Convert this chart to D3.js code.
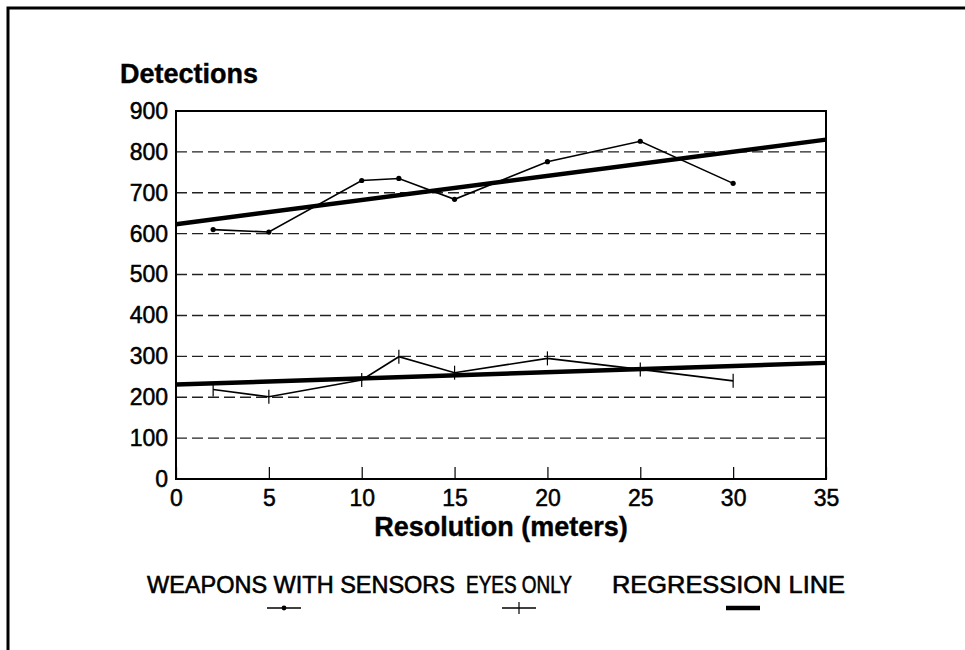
<!DOCTYPE html>
<html>
<head>
<meta charset="utf-8">
<script src="https://cdn.jsdelivr.net/npm/d3@7"></script>
<style>
  body { margin: 0; background: #fff; }
  text { font-family: "Liberation Sans", Arial, Helvetica, sans-serif; fill: #000; }
</style>
</head>
<body>
<svg width="965" height="650"></svg>
<script>
// data
var resolution = [2, 5, 10, 12, 15, 20, 25, 30];
var weaponsWithSensors = [610, 604, 730, 735, 684, 776, 826, 723];
var eyesOnly = [219, 201, 242, 299, 260, 295, 268, 240];
// regression lines, given by their end points (x = 0 and x = 35)
var regressionX = [0, 35];
var regressionWeapons = [623, 830];
var regressionEyes = [231, 284];
var yTicks = [0, 100, 200, 300, 400, 500, 600, 700, 800, 900];
var xTicks = [0, 5, 10, 15, 20, 25, 30, 35];
var legendLabels = ["WEAPONS WITH SENSORS", "EYES ONLY", "REGRESSION LINE"];

var svg = d3.select("svg"),
    margin = {top: 111, left: 176},
    width = 650,
    height = 368;

// outer frame (only top and left edges show)
svg.append("path")
    .attr("d", "M8,650V8H965")
    .attr("fill", "none")
    .attr("stroke", "#000")
    .attr("stroke-width", 3);

var g = svg.append("g").attr("transform", "translate(" + margin.left + "," + margin.top + ")");

var x = d3.scaleLinear().domain([0, 35]).range([0, width]);
var y = d3.scaleLinear().domain([0, 900]).range([height, 0]);

// dashed gridlines
g.append("g")
  .selectAll("line")
  .data(yTicks.filter(function(d) { return d > 0 && d < 900; }))
  .enter().append("line")
    .attr("x1", 0)
    .attr("x2", width)
    .attr("y1", function(d) { return y(d); })
    .attr("y2", function(d) { return y(d); })
    .attr("stroke", "#222")
    .attr("stroke-width", 1.4)
    .attr("stroke-dasharray", "11,5");

// y axis
var yAxis = g.append("g")
    .call(d3.axisLeft(y).tickValues(yTicks).tickSize(0).tickPadding(8));
yAxis.select(".domain").remove();
yAxis.selectAll("text")
    .attr("font-size", 23)
    .attr("font-family", "Liberation Sans, Arial, sans-serif")
    .attr("fill", "#000")
    .attr("stroke", "#000")
    .attr("stroke-width", 0.5);

// x axis, ticks pointing inward
var xAxis = g.append("g")
    .attr("transform", "translate(0," + height + ")")
    .call(d3.axisBottom(x).tickValues(xTicks).tickSizeInner(-12).tickSizeOuter(0).tickPadding(5));
xAxis.select(".domain").remove();
xAxis.selectAll("line").attr("stroke", "#000").attr("stroke-width", 1.2);
xAxis.selectAll("text")
    .attr("font-size", 23)
    .attr("font-family", "Liberation Sans, Arial, sans-serif")
    .attr("fill", "#000")
    .attr("stroke", "#000")
    .attr("stroke-width", 0.5)
    .attr("dy", "0.95em");

// plot box
g.append("rect")
    .attr("width", width)
    .attr("height", height)
    .attr("fill", "none")
    .attr("stroke", "#000")
    .attr("stroke-width", 2);

var line = d3.line()
    .x(function(d) { return x(d[0]); })
    .y(function(d) { return y(d[1]); });

var weaponsPts = d3.zip(resolution, weaponsWithSensors);
var eyesPts = d3.zip(resolution, eyesOnly);

// regression lines
[regressionWeapons, regressionEyes].forEach(function(r) {
  g.append("path")
      .datum(d3.zip(regressionX, r))
      .attr("d", line)
      .attr("fill", "none")
      .attr("stroke", "#000")
      .attr("stroke-width", 4.5);
});

// weapons with sensors
g.append("path")
    .datum(weaponsPts)
    .attr("d", line)
    .attr("fill", "none")
    .attr("stroke", "#000")
    .attr("stroke-width", 1.6);
g.selectAll(".dot")
    .data(weaponsPts)
    .enter().append("circle")
    .attr("cx", function(d) { return x(d[0]); })
    .attr("cy", function(d) { return y(d[1]); })
    .attr("r", 2.6)
    .attr("fill", "#000");

// eyes only
g.append("path")
    .datum(eyesPts)
    .attr("d", line)
    .attr("fill", "none")
    .attr("stroke", "#000")
    .attr("stroke-width", 1.6);
g.selectAll(".cross")
    .data(eyesPts)
    .enter().append("line")
    .attr("x1", function(d) { return x(d[0]); })
    .attr("x2", function(d) { return x(d[0]); })
    .attr("y1", function(d) { return y(d[1]) - 7; })
    .attr("y2", function(d) { return y(d[1]) + 7; })
    .attr("stroke", "#000")
    .attr("stroke-width", 1.2);

// titles
svg.append("text")
    .attr("x", 120)
    .attr("y", 83)
    .attr("font-size", 27)
    .attr("font-weight", "bold")
    .attr("stroke", "#000")
    .attr("stroke-width", 0.4)
    .text("Detections");

svg.append("text")
    .attr("x", margin.left + width / 2)
    .attr("y", 536)
    .attr("text-anchor", "middle")
    .attr("font-size", 27)
    .attr("font-weight", "bold")
    .attr("stroke", "#000")
    .attr("stroke-width", 0.4)
    .text("Resolution (meters)");

// legend
var legendX = [147, 466, 612],
    legendW = [308, 106, 233],
    markX = [284, 519, 743];

svg.selectAll(".legtext")
    .data(legendLabels)
    .enter().append("text")
    .attr("x", function(d, i) { return legendX[i]; })
    .attr("y", 593)
    .attr("font-size", 24)
    .attr("stroke", "#000")
    .attr("stroke-width", 0.6)
    .attr("textLength", function(d, i) { return legendW[i]; })
    .attr("lengthAdjust", "spacingAndGlyphs")
    .text(function(d) { return d; });

var ly = 608;
svg.append("line").attr("x1", markX[0] - 17).attr("x2", markX[0] + 17)
    .attr("y1", ly).attr("y2", ly).attr("stroke", "#000").attr("stroke-width", 1.6);
svg.append("circle").attr("cx", markX[0]).attr("cy", ly).attr("r", 2.4).attr("fill", "#000");

svg.append("line").attr("x1", markX[1] - 17).attr("x2", markX[1] + 17)
    .attr("y1", ly).attr("y2", ly).attr("stroke", "#000").attr("stroke-width", 1.6);
svg.append("line").attr("x1", markX[1]).attr("x2", markX[1])
    .attr("y1", ly - 6).attr("y2", ly + 6).attr("stroke", "#000").attr("stroke-width", 1.2);

svg.append("line").attr("x1", markX[2] - 17).attr("x2", markX[2] + 17)
    .attr("y1", ly).attr("y2", ly).attr("stroke", "#000").attr("stroke-width", 4.5);
</script>
</body>
</html>
